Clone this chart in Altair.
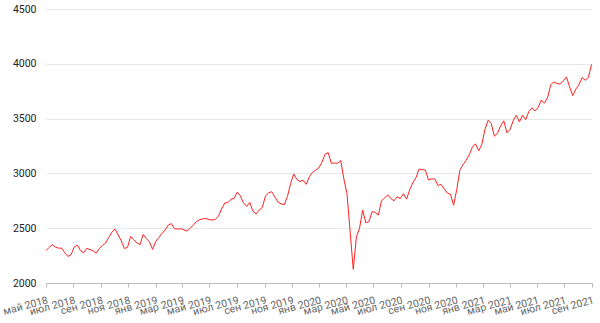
import altair as alt
import pandas as pd

start_date = "2018-05-01"
end_date = "2021-09-01"

# weekly closing values
values = [
    2295, 2325, 2350, 2328, 2318, 2318, 2275, 2242, 2258, 2330,
    2345, 2295, 2275, 2316, 2305, 2295, 2271, 2315, 2342, 2365,
    2415, 2462, 2493, 2440, 2385, 2315, 2325, 2425, 2395, 2365,
    2350, 2444, 2405, 2375, 2307, 2380, 2415, 2452, 2485, 2529,
    2542, 2495, 2492, 2495, 2485, 2474, 2500, 2530, 2560, 2578,
    2585, 2588, 2578, 2575, 2580, 2610, 2675, 2730, 2735, 2763,
    2772, 2830, 2795, 2730, 2698, 2735, 2655, 2630, 2666, 2690,
    2795, 2822, 2833, 2785, 2738, 2722, 2715, 2790, 2905, 2995,
    2946, 2925, 2938, 2900, 2970, 3010, 3030, 3050, 3100, 3175,
    3190, 3092, 3095, 3092, 3118, 2950, 2815, 2470, 2125, 2420,
    2500, 2665, 2550, 2560, 2651, 2645, 2620, 2750, 2775, 2805,
    2770, 2750, 2786, 2770, 2815, 2765, 2850, 2915, 2960, 3040,
    3035, 3030, 2940, 2950, 2950, 2890, 2900, 2860, 2820, 2810,
    2710, 2850, 3030, 3080, 3120, 3170, 3240, 3270, 3205, 3265,
    3400, 3485, 3457, 3340, 3365, 3435, 3480, 3370, 3400, 3480,
    3530, 3470, 3530, 3490, 3565, 3598, 3570, 3605, 3670, 3640,
    3695, 3810, 3835, 3820, 3815, 3845, 3880, 3790, 3710, 3770,
    3810, 3875, 3850, 3875, 3995,
]
dates = pd.date_range(start_date, periods=len(values), freq="7D")

y_ticks = [2000, 2500, 3000, 3500, 4000, 4500]
month_names = ["янв", "фев", "мар", "апр", "май", "июн",
               "июл", "авг", "сен", "окт", "ноя", "дек"]
x_ticks = [
    "2018-05-01", "2018-07-01", "2018-09-01", "2018-11-01",
    "2019-01-01", "2019-03-01", "2019-05-01", "2019-07-01", "2019-09-01", "2019-11-01",
    "2020-01-01", "2020-03-01", "2020-05-01", "2020-07-01", "2020-09-01", "2020-11-01",
    "2021-01-01", "2021-03-01", "2021-05-01", "2021-07-01", "2021-09-01",
]

df = pd.DataFrame({"date": dates, "value": values})

label_expr = (
    "[" + ",".join("'" + m + "'" for m in month_names) + "][month(datum.value)]"
    " + ' ' + year(datum.value)"
)

chart = (
    alt.Chart(df)
    .mark_line(color="#ff2020", strokeWidth=1)
    .encode(
        x=alt.X(
            "date:T",
            title=None,
            scale=alt.Scale(domain=[start_date + "T00:00:00", end_date + "T00:00:00"], nice=False),
            axis=alt.Axis(
                values=[d + "T00:00:00" for d in x_ticks],
                labelExpr=label_expr,
                labelAngle=-15,
                labelAlign="right",
                labelBaseline="top",
                labelPadding=8,
                labelFont="Roboto",
                labelFontSize=10.5,
                labelColor="#666666",
                domainColor="#bbbbbb",
                tickColor="#bbbbbb",
                tickSize=4,
                grid=False,
                labelOverlap=False,
                labelFlush=False,
            ),
        ),
        y=alt.Y(
            "value:Q",
            title=None,
            scale=alt.Scale(domain=[2000, 4500], nice=False, zero=False),
            axis=alt.Axis(
                values=y_ticks,
                format="d",
                domain=False,
                ticks=False,
                labelPadding=10,
                labelFont="Roboto",
                labelFontSize=10.5,
                labelColor="#222222",
                gridColor="#e8e8e8",
            ),
        ),
    )
    .properties(
        width=546,
        height=274,
        autosize=alt.AutoSizeParams(type="none"),
        padding={"left": 46, "top": 9, "right": 8, "bottom": 40},
    )
    .configure_view(stroke=None)
)

chart.save("out.html", embed_options={"renderer": "svg", "actions": False})
